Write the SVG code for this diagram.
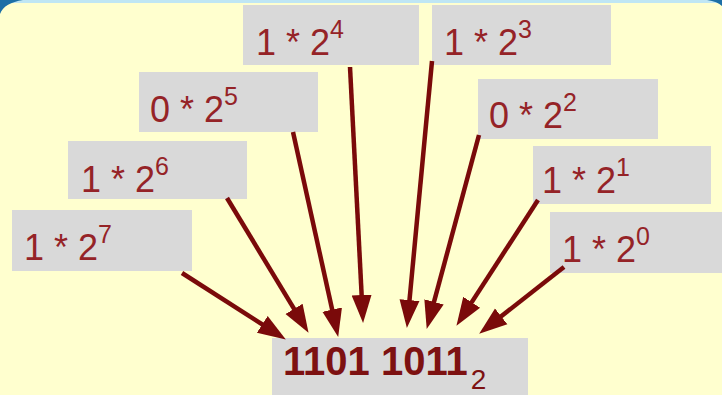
<svg xmlns="http://www.w3.org/2000/svg" width="722" height="395" viewBox="0 0 722 395">
<style>
.bx{fill:#d9d9d9}
.t{font-family:"Liberation Sans",Arial,sans-serif;font-size:36px;fill:#952327}
.sup{font-size:25px}
.ar{stroke:#7a0a0a;stroke-width:4.5;fill:none;marker-end:url(#ah)}
.res{font-family:"Liberation Sans",Arial,sans-serif;font-size:40px;font-weight:bold;fill:#7d1111}
</style>
<defs>
<marker id="ah" markerUnits="userSpaceOnUse" markerWidth="30" markerHeight="22" refX="15" refY="10" orient="auto" viewBox="0 0 30 20">
<path d="M0,0 L28,10 L0,20 Z" fill="#7a0a0a"/>
</marker>
</defs>
<rect x="0" y="0" width="722" height="395" fill="#ffffcf"/>
<rect x="0" y="0" width="722" height="3" fill="#bfe6f4"/>
<path d="M0,0 H23 C11,2 3,6 0,14 Z" fill="#1c6fa6"/>
<path d="M707,0 H722 V6 C719,3 714,1 707,0 Z" fill="#1c6fa6"/>

<g id="n4"><rect class="bx" x="243" y="5" width="176" height="60"/><text class="t" x="256" y="55">1 * 2<tspan class="sup" dy="-17">4</tspan></text></g>
<g id="n3"><rect class="bx" x="432" y="5" width="179" height="60"/><text class="t" x="444" y="55">1 * 2<tspan class="sup" dy="-17">3</tspan></text></g>
<g id="n5"><rect class="bx" x="139" y="72" width="179" height="60"/><text class="t" x="150" y="122">0 * 2<tspan class="sup" dy="-17">5</tspan></text></g>
<g id="n2"><rect class="bx" x="478" y="79" width="180" height="60"/><text class="t" x="489" y="128">0 * 2<tspan class="sup" dy="-17">2</tspan></text></g>
<g id="n6"><rect class="bx" x="68" y="141" width="179" height="58"/><text class="t" x="81" y="192">1 * 2<tspan class="sup" dy="-17">6</tspan></text></g>
<g id="n1"><rect class="bx" x="533" y="146" width="178" height="58"/><text class="t" x="542" y="193">1 * 2<tspan class="sup" dy="-17">1</tspan></text></g>
<g id="n7"><rect class="bx" x="12" y="210" width="180" height="61"/><text class="t" x="24" y="260">1 * 2<tspan class="sup" dy="-17">7</tspan></text></g>
<g id="n0"><rect class="bx" x="550" y="212" width="172" height="61"/><text class="t" x="562" y="262">1 * 2<tspan class="sup" dy="-17">0</tspan></text></g>
<g id="result"><rect class="bx" x="272" y="338" width="256" height="57"/><text class="res" x="283" y="375">1101 1011<tspan font-weight="normal" font-size="28" dx="3" dy="14">2</tspan></text></g>

<g id="connectors">
<line class="ar" x1="182" y1="273" x2="274.9" y2="332.5"/>
<line class="ar" x1="227" y1="198" x2="301.8" y2="321.7"/>
<line class="ar" x1="293" y1="132" x2="335.4" y2="324.3"/>
<line class="ar" x1="350" y1="67" x2="362.4" y2="310"/>
<line class="ar" x1="432" y1="61" x2="408.1" y2="315"/>
<line class="ar" x1="479" y1="135" x2="430.1" y2="316.4"/>
<line class="ar" x1="538" y1="200" x2="463.5" y2="314.9"/>
<line class="ar" x1="564" y1="267" x2="489.4" y2="325.6"/>
</g>
</svg>
